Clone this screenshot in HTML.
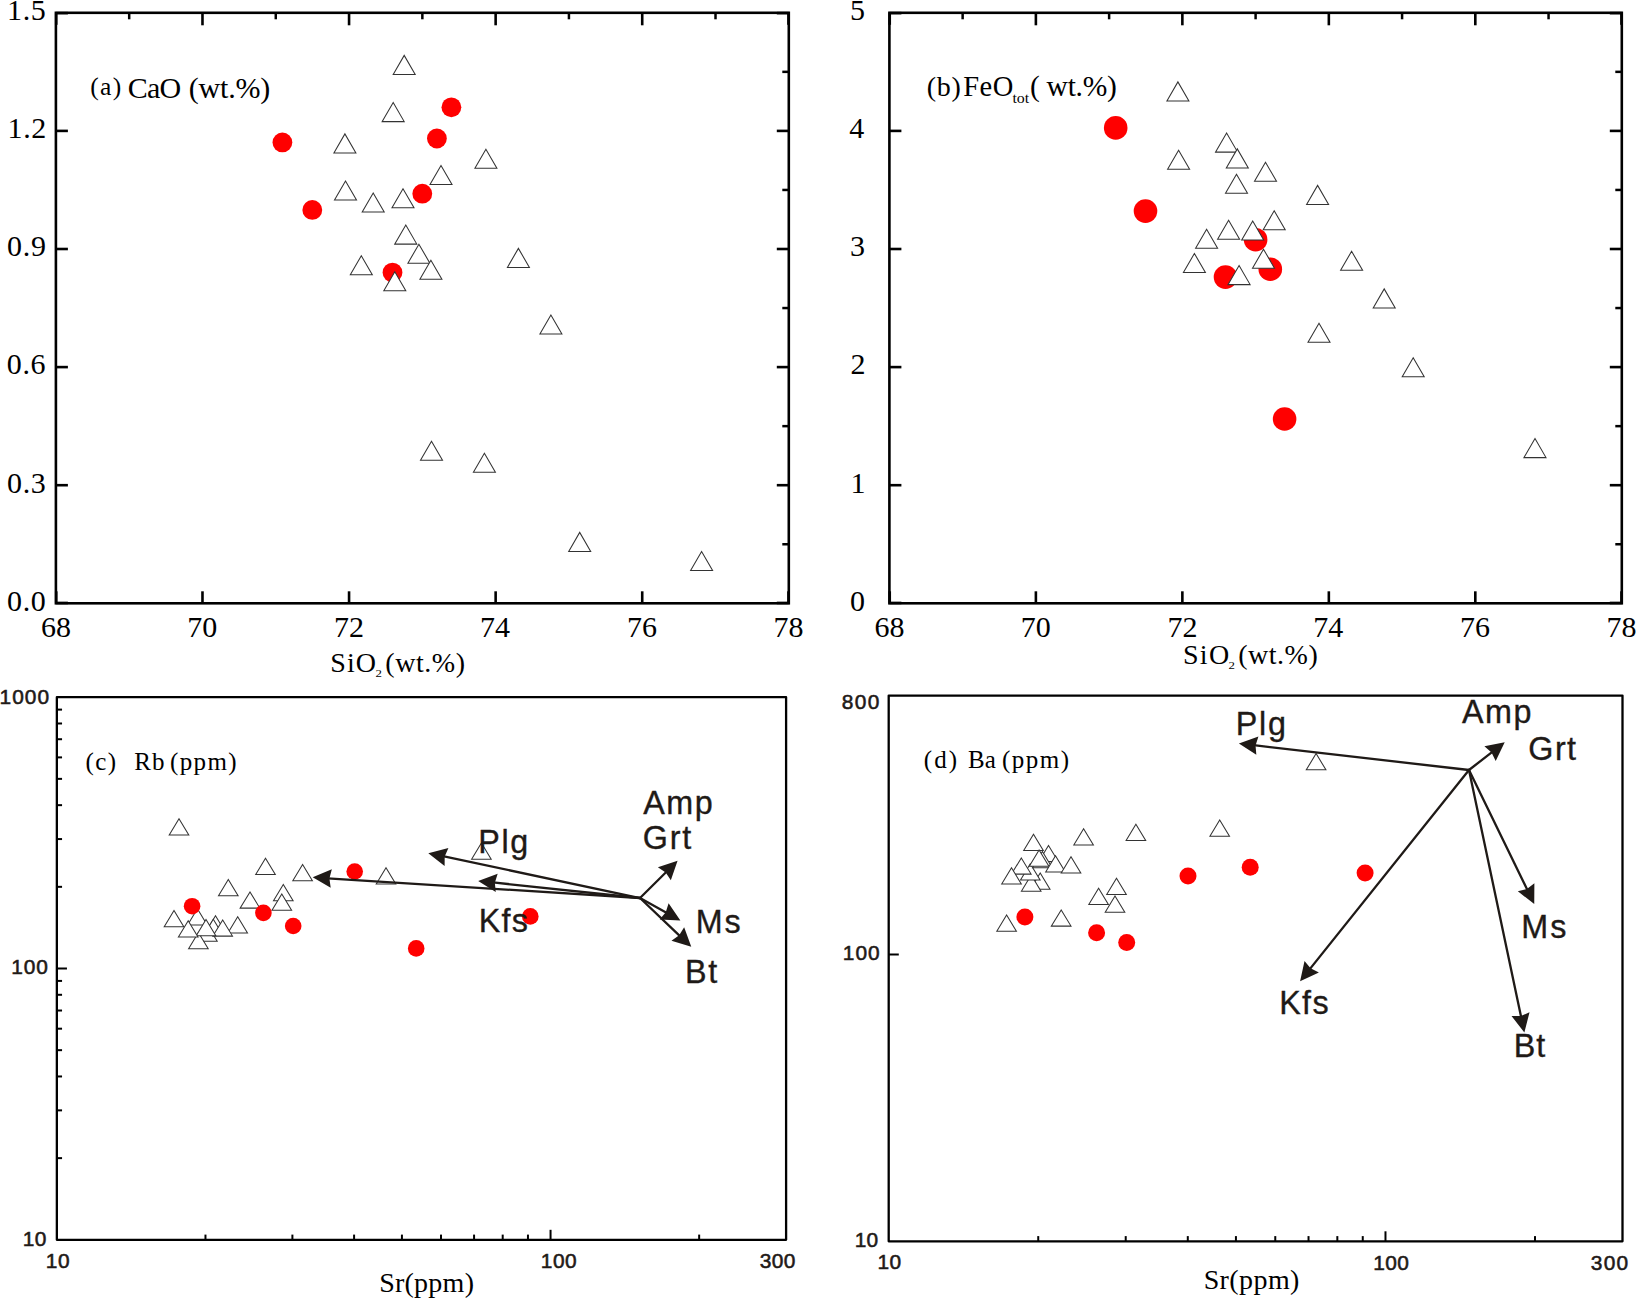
<!DOCTYPE html>
<html lang="en">
<head>
<meta charset="utf-8">
<title>Harker and Sr variation diagrams</title>
<style>
html,body{margin:0;padding:0;background:#fff;}
body{width:1636px;height:1299px;overflow:hidden;}
svg{display:block;}
.se{font-family:"Liberation Serif","Times New Roman",serif;fill:#000;}
.sa{font-family:"Liberation Sans",Arial,sans-serif;fill:#1f1a17;}
</style>
</head>
<body>
<svg width="1636" height="1299" viewBox="0 0 1636 1299">
<rect width="1636" height="1299" fill="#fff"/>
<g id="panel-a">
<rect x="55.9" y="12.8" width="732.9" height="590.5" fill="none" stroke="#000" stroke-width="2.6"/>
<text class="se" x="41.03" y="637.3" font-size="30" letter-spacing="0">68</text>
<line x1="129.19" y1="12.8" x2="129.19" y2="19.3" stroke="#000" stroke-width="2.5" stroke-linecap="butt"/>
<line x1="202.48" y1="12.8" x2="202.48" y2="25.3" stroke="#000" stroke-width="2.6" stroke-linecap="butt"/>
<line x1="202.48" y1="603.3" x2="202.48" y2="591.3" stroke="#000" stroke-width="2.6" stroke-linecap="butt"/>
<text class="se" x="187.26" y="637.3" font-size="30" letter-spacing="0">70</text>
<line x1="275.77" y1="12.8" x2="275.77" y2="19.3" stroke="#000" stroke-width="2.5" stroke-linecap="butt"/>
<line x1="349.06" y1="12.8" x2="349.06" y2="25.3" stroke="#000" stroke-width="2.6" stroke-linecap="butt"/>
<line x1="349.06" y1="603.3" x2="349.06" y2="591.3" stroke="#000" stroke-width="2.6" stroke-linecap="butt"/>
<text class="se" x="334.1" y="637.3" font-size="30" letter-spacing="0">72</text>
<line x1="422.35" y1="12.8" x2="422.35" y2="19.3" stroke="#000" stroke-width="2.5" stroke-linecap="butt"/>
<line x1="495.64" y1="12.8" x2="495.64" y2="25.3" stroke="#000" stroke-width="2.6" stroke-linecap="butt"/>
<line x1="495.64" y1="603.3" x2="495.64" y2="591.3" stroke="#000" stroke-width="2.6" stroke-linecap="butt"/>
<text class="se" x="480.09" y="637.3" font-size="30" letter-spacing="0">74</text>
<line x1="568.93" y1="12.8" x2="568.93" y2="19.3" stroke="#000" stroke-width="2.5" stroke-linecap="butt"/>
<line x1="642.22" y1="12.8" x2="642.22" y2="25.3" stroke="#000" stroke-width="2.6" stroke-linecap="butt"/>
<line x1="642.22" y1="603.3" x2="642.22" y2="591.3" stroke="#000" stroke-width="2.6" stroke-linecap="butt"/>
<text class="se" x="626.88" y="637.3" font-size="30" letter-spacing="0">76</text>
<line x1="715.51" y1="12.8" x2="715.51" y2="19.3" stroke="#000" stroke-width="2.5" stroke-linecap="butt"/>
<text class="se" x="773.58" y="637.3" font-size="30" letter-spacing="0">78</text>
<text class="se" x="6.94" y="610.6" font-size="30" letter-spacing="0.7">0.0</text>
<line x1="788.8" y1="544.25" x2="782.3" y2="544.25" stroke="#000" stroke-width="2.5" stroke-linecap="butt"/>
<line x1="55.9" y1="485.2" x2="67.9" y2="485.2" stroke="#000" stroke-width="2.6" stroke-linecap="butt"/>
<line x1="788.8" y1="485.2" x2="776.8" y2="485.2" stroke="#000" stroke-width="2.6" stroke-linecap="butt"/>
<text class="se" x="6.97" y="492.5" font-size="30" letter-spacing="0.7">0.3</text>
<line x1="788.8" y1="426.15" x2="782.3" y2="426.15" stroke="#000" stroke-width="2.5" stroke-linecap="butt"/>
<line x1="55.9" y1="367.1" x2="67.9" y2="367.1" stroke="#000" stroke-width="2.6" stroke-linecap="butt"/>
<line x1="788.8" y1="367.1" x2="776.8" y2="367.1" stroke="#000" stroke-width="2.6" stroke-linecap="butt"/>
<text class="se" x="6.69" y="374.4" font-size="30" letter-spacing="0.7">0.6</text>
<line x1="788.8" y1="308.05" x2="782.3" y2="308.05" stroke="#000" stroke-width="2.5" stroke-linecap="butt"/>
<line x1="55.9" y1="249" x2="67.9" y2="249" stroke="#000" stroke-width="2.6" stroke-linecap="butt"/>
<line x1="788.8" y1="249" x2="776.8" y2="249" stroke="#000" stroke-width="2.6" stroke-linecap="butt"/>
<text class="se" x="7.03" y="256.3" font-size="30" letter-spacing="0.7">0.9</text>
<line x1="788.8" y1="189.95" x2="782.3" y2="189.95" stroke="#000" stroke-width="2.5" stroke-linecap="butt"/>
<line x1="55.9" y1="130.9" x2="67.9" y2="130.9" stroke="#000" stroke-width="2.6" stroke-linecap="butt"/>
<line x1="788.8" y1="130.9" x2="776.8" y2="130.9" stroke="#000" stroke-width="2.6" stroke-linecap="butt"/>
<text class="se" x="7.46" y="138.2" font-size="30" letter-spacing="0.7">1.2</text>
<line x1="788.8" y1="71.85" x2="782.3" y2="71.85" stroke="#000" stroke-width="2.5" stroke-linecap="butt"/>
<text class="se" x="6.97" y="20.1" font-size="30" letter-spacing="0.7">1.5</text>
<line x1="55.9" y1="13.15" x2="67.9" y2="13.15" stroke="#000" stroke-width="2.6" stroke-linecap="butt"/>
<line x1="56.25" y1="12.8" x2="56.25" y2="24.8" stroke="#000" stroke-width="2.6" stroke-linecap="butt"/>
<line x1="788.8" y1="13.15" x2="776.8" y2="13.15" stroke="#000" stroke-width="2.6" stroke-linecap="butt"/>
<line x1="788.45" y1="12.8" x2="788.45" y2="24.8" stroke="#000" stroke-width="2.6" stroke-linecap="butt"/>
<line x1="55.9" y1="602.95" x2="67.9" y2="602.95" stroke="#000" stroke-width="2.6" stroke-linecap="butt"/>
<line x1="56.25" y1="603.3" x2="56.25" y2="591.3" stroke="#000" stroke-width="2.6" stroke-linecap="butt"/>
<line x1="788.8" y1="602.95" x2="776.8" y2="602.95" stroke="#000" stroke-width="2.6" stroke-linecap="butt"/>
<line x1="788.45" y1="603.3" x2="788.45" y2="591.3" stroke="#000" stroke-width="2.6" stroke-linecap="butt"/>
<text class="se" x="90.18" y="94.7" font-size="25.5" letter-spacing="1.37">(a)</text>
<text class="se" x="127.67" y="98.1" font-size="30" letter-spacing="-0.71">CaO</text>
<text class="se" x="188.78" y="98.1" font-size="30" letter-spacing="-0.21">(wt.%)</text>
<text class="se" x="330.33" y="671.5" font-size="28" letter-spacing="1.02">SiO</text>
<text class="se" x="375.6" y="676.5" font-size="11" textLength="6.4" lengthAdjust="spacingAndGlyphs">2</text>
<text class="se" x="385.27" y="671.5" font-size="28" letter-spacing="0.56">(wt.%)</text>
<path d="M393.2 74.4L404.2 55.4L415.2 74.4Z" fill="#fff" stroke="#333" stroke-width="1.05" stroke-linejoin="miter"/>
<path d="M382.2 121.6L393.2 102.6L404.2 121.6Z" fill="#fff" stroke="#333" stroke-width="1.05" stroke-linejoin="miter"/>
<path d="M333.9 152.9L344.9 133.9L355.9 152.9Z" fill="#fff" stroke="#333" stroke-width="1.05" stroke-linejoin="miter"/>
<path d="M474.9 168.3L485.9 149.3L496.9 168.3Z" fill="#fff" stroke="#333" stroke-width="1.05" stroke-linejoin="miter"/>
<path d="M430 184.5L441 165.5L452 184.5Z" fill="#fff" stroke="#333" stroke-width="1.05" stroke-linejoin="miter"/>
<path d="M334.5 200L345.5 181L356.5 200Z" fill="#fff" stroke="#333" stroke-width="1.05" stroke-linejoin="miter"/>
<path d="M362.2 212L373.2 193L384.2 212Z" fill="#fff" stroke="#333" stroke-width="1.05" stroke-linejoin="miter"/>
<path d="M392 207.7L403 188.7L414 207.7Z" fill="#fff" stroke="#333" stroke-width="1.05" stroke-linejoin="miter"/>
<path d="M394.8 244.1L405.8 225.1L416.8 244.1Z" fill="#fff" stroke="#333" stroke-width="1.05" stroke-linejoin="miter"/>
<path d="M407.9 263.2L418.9 244.2L429.9 263.2Z" fill="#fff" stroke="#333" stroke-width="1.05" stroke-linejoin="miter"/>
<path d="M350.3 274.8L361.3 255.8L372.3 274.8Z" fill="#fff" stroke="#333" stroke-width="1.05" stroke-linejoin="miter"/>
<path d="M419.9 279.3L430.9 260.3L441.9 279.3Z" fill="#fff" stroke="#333" stroke-width="1.05" stroke-linejoin="miter"/>
<path d="M507.4 267.4L518.4 248.4L529.4 267.4Z" fill="#fff" stroke="#333" stroke-width="1.05" stroke-linejoin="miter"/>
<path d="M539.9 334L550.9 315L561.9 334Z" fill="#fff" stroke="#333" stroke-width="1.05" stroke-linejoin="miter"/>
<path d="M420.5 460.3L431.5 441.3L442.5 460.3Z" fill="#fff" stroke="#333" stroke-width="1.05" stroke-linejoin="miter"/>
<path d="M473.4 472.3L484.4 453.3L495.4 472.3Z" fill="#fff" stroke="#333" stroke-width="1.05" stroke-linejoin="miter"/>
<path d="M568.7 551.4L579.7 532.4L590.7 551.4Z" fill="#fff" stroke="#333" stroke-width="1.05" stroke-linejoin="miter"/>
<path d="M690.6 570.5L701.6 551.5L712.6 570.5Z" fill="#fff" stroke="#333" stroke-width="1.05" stroke-linejoin="miter"/>
<circle cx="282.4" cy="142.4" r="9.9" fill="#ff0000"/>
<circle cx="312.3" cy="209.9" r="9.9" fill="#ff0000"/>
<circle cx="451.4" cy="107.3" r="9.9" fill="#ff0000"/>
<circle cx="436.9" cy="138.5" r="9.9" fill="#ff0000"/>
<circle cx="422.3" cy="193.7" r="9.9" fill="#ff0000"/>
<circle cx="392.5" cy="272.6" r="9.9" fill="#ff0000"/>
<path d="M383.8 290.8L394.8 271.8L405.8 290.8Z" fill="#fff" stroke="#333" stroke-width="1.05" stroke-linejoin="miter"/>
</g>
<g id="panel-b">
<rect x="889.4" y="12.8" width="732.4" height="590.5" fill="none" stroke="#000" stroke-width="2.6"/>
<text class="se" x="874.53" y="637.3" font-size="30" letter-spacing="0">68</text>
<line x1="962.64" y1="12.8" x2="962.64" y2="19.3" stroke="#000" stroke-width="2.5" stroke-linecap="butt"/>
<line x1="1035.88" y1="12.8" x2="1035.88" y2="25.3" stroke="#000" stroke-width="2.6" stroke-linecap="butt"/>
<line x1="1035.88" y1="603.3" x2="1035.88" y2="591.3" stroke="#000" stroke-width="2.6" stroke-linecap="butt"/>
<text class="se" x="1020.66" y="637.3" font-size="30" letter-spacing="0">70</text>
<line x1="1109.12" y1="12.8" x2="1109.12" y2="19.3" stroke="#000" stroke-width="2.5" stroke-linecap="butt"/>
<line x1="1182.36" y1="12.8" x2="1182.36" y2="25.3" stroke="#000" stroke-width="2.6" stroke-linecap="butt"/>
<line x1="1182.36" y1="603.3" x2="1182.36" y2="591.3" stroke="#000" stroke-width="2.6" stroke-linecap="butt"/>
<text class="se" x="1167.4" y="637.3" font-size="30" letter-spacing="0">72</text>
<line x1="1255.6" y1="12.8" x2="1255.6" y2="19.3" stroke="#000" stroke-width="2.5" stroke-linecap="butt"/>
<line x1="1328.84" y1="12.8" x2="1328.84" y2="25.3" stroke="#000" stroke-width="2.6" stroke-linecap="butt"/>
<line x1="1328.84" y1="603.3" x2="1328.84" y2="591.3" stroke="#000" stroke-width="2.6" stroke-linecap="butt"/>
<text class="se" x="1313.29" y="637.3" font-size="30" letter-spacing="0">74</text>
<line x1="1402.08" y1="12.8" x2="1402.08" y2="19.3" stroke="#000" stroke-width="2.5" stroke-linecap="butt"/>
<line x1="1475.32" y1="12.8" x2="1475.32" y2="25.3" stroke="#000" stroke-width="2.6" stroke-linecap="butt"/>
<line x1="1475.32" y1="603.3" x2="1475.32" y2="591.3" stroke="#000" stroke-width="2.6" stroke-linecap="butt"/>
<text class="se" x="1459.98" y="637.3" font-size="30" letter-spacing="0">76</text>
<line x1="1548.56" y1="12.8" x2="1548.56" y2="19.3" stroke="#000" stroke-width="2.5" stroke-linecap="butt"/>
<text class="se" x="1606.58" y="637.3" font-size="30" letter-spacing="0">78</text>
<text class="se" x="849.94" y="610.6" font-size="30" letter-spacing="0">0</text>
<line x1="1621.8" y1="544.25" x2="1615.3" y2="544.25" stroke="#000" stroke-width="2.5" stroke-linecap="butt"/>
<line x1="889.4" y1="485.2" x2="901.4" y2="485.2" stroke="#000" stroke-width="2.6" stroke-linecap="butt"/>
<line x1="1621.8" y1="485.2" x2="1609.8" y2="485.2" stroke="#000" stroke-width="2.6" stroke-linecap="butt"/>
<text class="se" x="850.6" y="492.5" font-size="30" letter-spacing="0">1</text>
<line x1="1621.8" y1="426.15" x2="1615.3" y2="426.15" stroke="#000" stroke-width="2.5" stroke-linecap="butt"/>
<line x1="889.4" y1="367.1" x2="901.4" y2="367.1" stroke="#000" stroke-width="2.6" stroke-linecap="butt"/>
<line x1="1621.8" y1="367.1" x2="1609.8" y2="367.1" stroke="#000" stroke-width="2.6" stroke-linecap="butt"/>
<text class="se" x="850.46" y="374.4" font-size="30" letter-spacing="0">2</text>
<line x1="1621.8" y1="308.05" x2="1615.3" y2="308.05" stroke="#000" stroke-width="2.5" stroke-linecap="butt"/>
<line x1="889.4" y1="249" x2="901.4" y2="249" stroke="#000" stroke-width="2.6" stroke-linecap="butt"/>
<line x1="1621.8" y1="249" x2="1609.8" y2="249" stroke="#000" stroke-width="2.6" stroke-linecap="butt"/>
<text class="se" x="849.97" y="256.3" font-size="30" letter-spacing="0">3</text>
<line x1="1621.8" y1="189.95" x2="1615.3" y2="189.95" stroke="#000" stroke-width="2.5" stroke-linecap="butt"/>
<line x1="889.4" y1="130.9" x2="901.4" y2="130.9" stroke="#000" stroke-width="2.6" stroke-linecap="butt"/>
<line x1="1621.8" y1="130.9" x2="1609.8" y2="130.9" stroke="#000" stroke-width="2.6" stroke-linecap="butt"/>
<text class="se" x="849.27" y="138.2" font-size="30" letter-spacing="0">4</text>
<line x1="1621.8" y1="71.85" x2="1615.3" y2="71.85" stroke="#000" stroke-width="2.5" stroke-linecap="butt"/>
<text class="se" x="849.97" y="20.1" font-size="30" letter-spacing="0">5</text>
<line x1="889.4" y1="13.15" x2="901.4" y2="13.15" stroke="#000" stroke-width="2.6" stroke-linecap="butt"/>
<line x1="889.75" y1="12.8" x2="889.75" y2="24.8" stroke="#000" stroke-width="2.6" stroke-linecap="butt"/>
<line x1="1621.8" y1="13.15" x2="1609.8" y2="13.15" stroke="#000" stroke-width="2.6" stroke-linecap="butt"/>
<line x1="1621.45" y1="12.8" x2="1621.45" y2="24.8" stroke="#000" stroke-width="2.6" stroke-linecap="butt"/>
<line x1="889.4" y1="602.95" x2="901.4" y2="602.95" stroke="#000" stroke-width="2.6" stroke-linecap="butt"/>
<line x1="889.75" y1="603.3" x2="889.75" y2="591.3" stroke="#000" stroke-width="2.6" stroke-linecap="butt"/>
<line x1="1621.8" y1="602.95" x2="1609.8" y2="602.95" stroke="#000" stroke-width="2.6" stroke-linecap="butt"/>
<line x1="1621.45" y1="603.3" x2="1621.45" y2="591.3" stroke="#000" stroke-width="2.6" stroke-linecap="butt"/>
<text class="se" x="926.67" y="95.7" font-size="28" letter-spacing="0.81">(b)</text>
<text class="se" x="963.18" y="95.7" font-size="28.5" letter-spacing="0.6">FeO</text>
<text class="se" x="1012.4" y="102.8" font-size="14" textLength="16.8" lengthAdjust="spacingAndGlyphs">tot</text>
<text class="se" x="1029.9" y="95.7" font-size="29.5" letter-spacing="-0.25">( wt.%)</text>
<text class="se" x="1183.03" y="664" font-size="28" letter-spacing="1.27">SiO</text>
<text class="se" x="1228.6" y="669" font-size="11" textLength="6.4" lengthAdjust="spacingAndGlyphs">2</text>
<text class="se" x="1238.17" y="664" font-size="28" letter-spacing="0.52">(wt.%)</text>
<circle cx="1115.7" cy="127.9" r="11.8" fill="#ff0000"/>
<circle cx="1145.5" cy="211.1" r="11.8" fill="#ff0000"/>
<circle cx="1255.6" cy="239.7" r="11.8" fill="#ff0000"/>
<circle cx="1270.3" cy="269.2" r="11.8" fill="#ff0000"/>
<circle cx="1225.5" cy="277.1" r="11.8" fill="#ff0000"/>
<circle cx="1284.6" cy="419" r="11.8" fill="#ff0000"/>
<path d="M1166.9 100.9L1177.9 81.9L1188.9 100.9Z" fill="#fff" stroke="#333" stroke-width="1.05" stroke-linejoin="miter"/>
<path d="M1215.6 152.1L1226.6 133.1L1237.6 152.1Z" fill="#fff" stroke="#333" stroke-width="1.05" stroke-linejoin="miter"/>
<path d="M1167.6 169.3L1178.6 150.3L1189.6 169.3Z" fill="#fff" stroke="#333" stroke-width="1.05" stroke-linejoin="miter"/>
<path d="M1226.3 167.9L1237.3 148.9L1248.3 167.9Z" fill="#fff" stroke="#333" stroke-width="1.05" stroke-linejoin="miter"/>
<path d="M1254.5 181.3L1265.5 162.3L1276.5 181.3Z" fill="#fff" stroke="#333" stroke-width="1.05" stroke-linejoin="miter"/>
<path d="M1225.5 193.3L1236.5 174.3L1247.5 193.3Z" fill="#fff" stroke="#333" stroke-width="1.05" stroke-linejoin="miter"/>
<path d="M1306.6 204.4L1317.6 185.4L1328.6 204.4Z" fill="#fff" stroke="#333" stroke-width="1.05" stroke-linejoin="miter"/>
<path d="M1263.2 229.8L1274.2 210.8L1285.2 229.8Z" fill="#fff" stroke="#333" stroke-width="1.05" stroke-linejoin="miter"/>
<path d="M1217.6 239.2L1228.6 220.2L1239.6 239.2Z" fill="#fff" stroke="#333" stroke-width="1.05" stroke-linejoin="miter"/>
<path d="M1241.7 240L1252.7 221L1263.7 240Z" fill="#fff" stroke="#333" stroke-width="1.05" stroke-linejoin="miter"/>
<path d="M1195.6 248.3L1206.6 229.3L1217.6 248.3Z" fill="#fff" stroke="#333" stroke-width="1.05" stroke-linejoin="miter"/>
<path d="M1183.4 272.5L1194.4 253.5L1205.4 272.5Z" fill="#fff" stroke="#333" stroke-width="1.05" stroke-linejoin="miter"/>
<path d="M1252.5 268.2L1263.5 249.2L1274.5 268.2Z" fill="#fff" stroke="#333" stroke-width="1.05" stroke-linejoin="miter"/>
<path d="M1228.1 284.6L1239.1 265.6L1250.1 284.6Z" fill="#fff" stroke="#333" stroke-width="1.05" stroke-linejoin="miter"/>
<path d="M1340.6 270.3L1351.6 251.3L1362.6 270.3Z" fill="#fff" stroke="#333" stroke-width="1.05" stroke-linejoin="miter"/>
<path d="M1373.2 307.9L1384.2 288.9L1395.2 307.9Z" fill="#fff" stroke="#333" stroke-width="1.05" stroke-linejoin="miter"/>
<path d="M1308 342.3L1319 323.3L1330 342.3Z" fill="#fff" stroke="#333" stroke-width="1.05" stroke-linejoin="miter"/>
<path d="M1402.2 376.7L1413.2 357.7L1424.2 376.7Z" fill="#fff" stroke="#333" stroke-width="1.05" stroke-linejoin="miter"/>
<path d="M1524 457.6L1535 438.6L1546 457.6Z" fill="#fff" stroke="#333" stroke-width="1.05" stroke-linejoin="miter"/>
</g>
<g id="panel-c">
<rect x="56.85" y="697.2" width="729.25" height="542.6" fill="none" stroke="#000" stroke-width="2.3" stroke-linejoin="round"/>
<line x1="205.47" y1="1239.8" x2="205.47" y2="1234.6" stroke="#000" stroke-width="2.0" stroke-linecap="butt"/>
<line x1="292.4" y1="1239.8" x2="292.4" y2="1234.6" stroke="#000" stroke-width="2.0" stroke-linecap="butt"/>
<line x1="354.09" y1="1239.8" x2="354.09" y2="1234.6" stroke="#000" stroke-width="2.0" stroke-linecap="butt"/>
<line x1="401.93" y1="1239.8" x2="401.93" y2="1234.6" stroke="#000" stroke-width="2.0" stroke-linecap="butt"/>
<line x1="441.02" y1="1239.8" x2="441.02" y2="1234.6" stroke="#000" stroke-width="2.0" stroke-linecap="butt"/>
<line x1="474.07" y1="1239.8" x2="474.07" y2="1234.6" stroke="#000" stroke-width="2.0" stroke-linecap="butt"/>
<line x1="502.7" y1="1239.8" x2="502.7" y2="1234.6" stroke="#000" stroke-width="2.0" stroke-linecap="butt"/>
<line x1="527.96" y1="1239.8" x2="527.96" y2="1234.6" stroke="#000" stroke-width="2.0" stroke-linecap="butt"/>
<line x1="550.55" y1="1239.8" x2="550.55" y2="1229.8" stroke="#000" stroke-width="2.0" stroke-linecap="butt"/>
<line x1="699.16" y1="1239.8" x2="699.16" y2="1234.6" stroke="#000" stroke-width="2.0" stroke-linecap="butt"/>
<line x1="56.85" y1="1158.13" x2="62.05" y2="1158.13" stroke="#000" stroke-width="2.0" stroke-linecap="butt"/>
<line x1="56.85" y1="1110.36" x2="62.05" y2="1110.36" stroke="#000" stroke-width="2.0" stroke-linecap="butt"/>
<line x1="56.85" y1="1076.46" x2="62.05" y2="1076.46" stroke="#000" stroke-width="2.0" stroke-linecap="butt"/>
<line x1="56.85" y1="1050.17" x2="62.05" y2="1050.17" stroke="#000" stroke-width="2.0" stroke-linecap="butt"/>
<line x1="56.85" y1="1028.69" x2="62.05" y2="1028.69" stroke="#000" stroke-width="2.0" stroke-linecap="butt"/>
<line x1="56.85" y1="1010.52" x2="62.05" y2="1010.52" stroke="#000" stroke-width="2.0" stroke-linecap="butt"/>
<line x1="56.85" y1="994.79" x2="62.05" y2="994.79" stroke="#000" stroke-width="2.0" stroke-linecap="butt"/>
<line x1="56.85" y1="980.91" x2="62.05" y2="980.91" stroke="#000" stroke-width="2.0" stroke-linecap="butt"/>
<line x1="56.85" y1="886.83" x2="62.05" y2="886.83" stroke="#000" stroke-width="2.0" stroke-linecap="butt"/>
<line x1="56.85" y1="839.06" x2="62.05" y2="839.06" stroke="#000" stroke-width="2.0" stroke-linecap="butt"/>
<line x1="56.85" y1="805.16" x2="62.05" y2="805.16" stroke="#000" stroke-width="2.0" stroke-linecap="butt"/>
<line x1="56.85" y1="778.87" x2="62.05" y2="778.87" stroke="#000" stroke-width="2.0" stroke-linecap="butt"/>
<line x1="56.85" y1="757.39" x2="62.05" y2="757.39" stroke="#000" stroke-width="2.0" stroke-linecap="butt"/>
<line x1="56.85" y1="739.22" x2="62.05" y2="739.22" stroke="#000" stroke-width="2.0" stroke-linecap="butt"/>
<line x1="56.85" y1="723.49" x2="62.05" y2="723.49" stroke="#000" stroke-width="2.0" stroke-linecap="butt"/>
<line x1="56.85" y1="709.61" x2="62.05" y2="709.61" stroke="#000" stroke-width="2.0" stroke-linecap="butt"/>
<line x1="56.85" y1="968.5" x2="66.95" y2="968.5" stroke="#000" stroke-width="2.0" stroke-linecap="butt"/>
<path d="M169.2 834.9L179 818.7L188.8 834.9Z" fill="#fff" stroke="#333" stroke-width="1.05" stroke-linejoin="miter"/>
<path d="M255.7 874.4L265.5 858.2L275.3 874.4Z" fill="#fff" stroke="#333" stroke-width="1.05" stroke-linejoin="miter"/>
<path d="M292.8 880.7L302.6 864.5L312.4 880.7Z" fill="#fff" stroke="#333" stroke-width="1.05" stroke-linejoin="miter"/>
<path d="M376.2 884L386 867.8L395.8 884Z" fill="#fff" stroke="#333" stroke-width="1.05" stroke-linejoin="miter"/>
<path d="M471.6 859.3L481.4 843.1L491.2 859.3Z" fill="#fff" stroke="#333" stroke-width="1.05" stroke-linejoin="miter"/>
<path d="M218.5 895.8L228.3 879.6L238.1 895.8Z" fill="#fff" stroke="#333" stroke-width="1.05" stroke-linejoin="miter"/>
<path d="M273.5 900.7L283.3 884.5L293.1 900.7Z" fill="#fff" stroke="#333" stroke-width="1.05" stroke-linejoin="miter"/>
<path d="M240.2 908.1L250 891.9L259.8 908.1Z" fill="#fff" stroke="#333" stroke-width="1.05" stroke-linejoin="miter"/>
<path d="M272 910.2L281.8 894L291.6 910.2Z" fill="#fff" stroke="#333" stroke-width="1.05" stroke-linejoin="miter"/>
<path d="M187.6 925L197.4 908.8L207.2 925Z" fill="#fff" stroke="#333" stroke-width="1.05" stroke-linejoin="miter"/>
<path d="M164.2 926.8L174 910.6L183.8 926.8Z" fill="#fff" stroke="#333" stroke-width="1.05" stroke-linejoin="miter"/>
<path d="M205.7 932L215.5 915.8L225.3 932Z" fill="#fff" stroke="#333" stroke-width="1.05" stroke-linejoin="miter"/>
<path d="M203.5 935.5L213.3 919.3L223.1 935.5Z" fill="#fff" stroke="#333" stroke-width="1.05" stroke-linejoin="miter"/>
<path d="M197.6 941.3L207.4 925.1L217.2 941.3Z" fill="#fff" stroke="#333" stroke-width="1.05" stroke-linejoin="miter"/>
<path d="M188.6 948.8L198.4 932.6L208.2 948.8Z" fill="#fff" stroke="#333" stroke-width="1.05" stroke-linejoin="miter"/>
<path d="M227.9 933L237.7 916.8L247.5 933Z" fill="#fff" stroke="#333" stroke-width="1.05" stroke-linejoin="miter"/>
<path d="M212.9 936.1L222.7 919.9L232.5 936.1Z" fill="#fff" stroke="#333" stroke-width="1.05" stroke-linejoin="miter"/>
<path d="M196.2 935.8L206 919.6L215.8 935.8Z" fill="#fff" stroke="#333" stroke-width="1.05" stroke-linejoin="miter"/>
<path d="M178.4 937L188.2 920.8L198 937Z" fill="#fff" stroke="#333" stroke-width="1.05" stroke-linejoin="miter"/>
<circle cx="192.1" cy="906.2" r="8.3" fill="#ff0000"/>
<circle cx="263.4" cy="912.9" r="8.3" fill="#ff0000"/>
<circle cx="293.2" cy="926" r="8.3" fill="#ff0000"/>
<circle cx="354.7" cy="871.5" r="8.3" fill="#ff0000"/>
<circle cx="416.2" cy="948.4" r="8.3" fill="#ff0000"/>
<circle cx="530.3" cy="916.4" r="8.3" fill="#ff0000"/>
<line x1="640" y1="898" x2="327.55" y2="878.29" stroke="#1f1a17" stroke-width="2.3" stroke-linecap="round"/>
<path d="M312.7 877.35L331.84 869.34L329.41 878.4L330.69 887.7Z" fill="#1f1a17"/>
<line x1="640" y1="898" x2="442.87" y2="856.22" stroke="#1f1a17" stroke-width="2.3" stroke-linecap="round"/>
<path d="M428.32 853.13L448.42 847.99L444.69 856.61L444.61 865.99Z" fill="#1f1a17"/>
<line x1="640" y1="898" x2="493" y2="882.48" stroke="#1f1a17" stroke-width="2.3" stroke-linecap="round"/>
<path d="M478.2 880.92L497.67 873.72L494.85 882.67L495.74 892.02Z" fill="#1f1a17"/>
<line x1="640" y1="898" x2="667" y2="871.22" stroke="#1f1a17" stroke-width="2.3" stroke-linecap="round"/>
<path d="M677.57 860.74L670.84 880.37L665.68 872.53L657.88 867.3Z" fill="#1f1a17"/>
<line x1="640" y1="898" x2="667.38" y2="913.18" stroke="#1f1a17" stroke-width="2.3" stroke-linecap="round"/>
<path d="M680.4 920.39L659.67 919.42L665.76 912.27L668.59 903.33Z" fill="#1f1a17"/>
<line x1="640" y1="898" x2="680.51" y2="936.59" stroke="#1f1a17" stroke-width="2.3" stroke-linecap="round"/>
<path d="M691.28 946.85L671.47 940.68L679.16 935.31L684.16 927.36Z" fill="#1f1a17"/>
<text class="sa" x="-0.42" y="703.6" font-size="20.9" letter-spacing="1.02" stroke="#1f1a17" stroke-width="0.55">1000</text>
<text class="sa" x="11.18" y="974.2" font-size="20.9" letter-spacing="0.94" stroke="#1f1a17" stroke-width="0.55">100</text>
<text class="sa" x="22.78" y="1245.6" font-size="20.9" letter-spacing="0.31" stroke="#1f1a17" stroke-width="0.55">10</text>
<text class="sa" x="45.78" y="1267.9" font-size="20.9" letter-spacing="0.61" stroke="#1f1a17" stroke-width="0.55">10</text>
<text class="sa" x="540.85" y="1267.8" font-size="20.9" letter-spacing="0.43" stroke="#1f1a17" stroke-width="0.55">100</text>
<text class="sa" x="759.65" y="1267.8" font-size="20.9" letter-spacing="0.42" stroke="#1f1a17" stroke-width="0.55">300</text>
<text class="se" x="85.4" y="770.3" font-size="25" letter-spacing="1.53">(c)</text>
<text class="se" x="134.18" y="770.3" font-size="25" letter-spacing="1.1">Rb</text>
<text class="se" x="170.1" y="770.3" font-size="25" letter-spacing="1.35">(ppm)</text>
<text class="se" x="379.13" y="1292.4" font-size="28" letter-spacing="0.25">Sr(ppm)</text>
<text class="sa" x="643.21" y="813.9" font-size="32.3" letter-spacing="1.53" stroke="#1f1a17" stroke-width="0.35">Amp</text>
<text class="sa" x="642.85" y="849" font-size="32.3" letter-spacing="1.73" stroke="#1f1a17" stroke-width="0.35">Grt</text>
<text class="sa" x="478.33" y="853.3" font-size="32.3" letter-spacing="1.65" stroke="#1f1a17" stroke-width="0.35">Plg</text>
<text class="sa" x="478.73" y="932.3" font-size="32.3" letter-spacing="1.3" stroke="#1f1a17" stroke-width="0.35">Kfs</text>
<text class="sa" x="695.73" y="933.3" font-size="32.3" letter-spacing="1.91" stroke="#1f1a17" stroke-width="0.35">Ms</text>
<text class="sa" x="684.93" y="982.9" font-size="32.3" letter-spacing="1.72" stroke="#1f1a17" stroke-width="0.35">Bt</text>
</g>
<g id="panel-d">
<rect x="888.7" y="695.6" width="733.8" height="545.7" fill="none" stroke="#000" stroke-width="2.3" stroke-linejoin="round"/>
<line x1="1038.24" y1="1241.3" x2="1038.24" y2="1236.1" stroke="#000" stroke-width="2.0" stroke-linecap="butt"/>
<line x1="1125.72" y1="1241.3" x2="1125.72" y2="1236.1" stroke="#000" stroke-width="2.0" stroke-linecap="butt"/>
<line x1="1187.79" y1="1241.3" x2="1187.79" y2="1236.1" stroke="#000" stroke-width="2.0" stroke-linecap="butt"/>
<line x1="1235.93" y1="1241.3" x2="1235.93" y2="1236.1" stroke="#000" stroke-width="2.0" stroke-linecap="butt"/>
<line x1="1275.27" y1="1241.3" x2="1275.27" y2="1236.1" stroke="#000" stroke-width="2.0" stroke-linecap="butt"/>
<line x1="1308.53" y1="1241.3" x2="1308.53" y2="1236.1" stroke="#000" stroke-width="2.0" stroke-linecap="butt"/>
<line x1="1337.33" y1="1241.3" x2="1337.33" y2="1236.1" stroke="#000" stroke-width="2.0" stroke-linecap="butt"/>
<line x1="1362.75" y1="1241.3" x2="1362.75" y2="1236.1" stroke="#000" stroke-width="2.0" stroke-linecap="butt"/>
<line x1="1385.48" y1="1241.3" x2="1385.48" y2="1231.3" stroke="#000" stroke-width="2.0" stroke-linecap="butt"/>
<line x1="1535.02" y1="1241.3" x2="1535.02" y2="1236.1" stroke="#000" stroke-width="2.0" stroke-linecap="butt"/>
<line x1="888.7" y1="954.5" x2="898.8" y2="954.5" stroke="#000" stroke-width="2.0" stroke-linecap="butt"/>
<path d="M1306.3 769.8L1316.1 753.6L1325.9 769.8Z" fill="#fff" stroke="#333" stroke-width="1.05" stroke-linejoin="miter"/>
<path d="M1209.9 836.2L1219.7 820L1229.5 836.2Z" fill="#fff" stroke="#333" stroke-width="1.05" stroke-linejoin="miter"/>
<path d="M1126.1 840.5L1135.9 824.3L1145.7 840.5Z" fill="#fff" stroke="#333" stroke-width="1.05" stroke-linejoin="miter"/>
<path d="M1073.8 844.9L1083.6 828.7L1093.4 844.9Z" fill="#fff" stroke="#333" stroke-width="1.05" stroke-linejoin="miter"/>
<path d="M1030.4 889.3L1040.2 873.1L1050 889.3Z" fill="#fff" stroke="#333" stroke-width="1.05" stroke-linejoin="miter"/>
<path d="M1021.4 891.2L1031.2 875L1041 891.2Z" fill="#fff" stroke="#333" stroke-width="1.05" stroke-linejoin="miter"/>
<path d="M1020.5 879.9L1030.3 863.7L1040.1 879.9Z" fill="#fff" stroke="#333" stroke-width="1.05" stroke-linejoin="miter"/>
<path d="M1011.5 874.1L1021.3 857.9L1031.1 874.1Z" fill="#fff" stroke="#333" stroke-width="1.05" stroke-linejoin="miter"/>
<path d="M1001.7 884L1011.5 867.8L1021.3 884Z" fill="#fff" stroke="#333" stroke-width="1.05" stroke-linejoin="miter"/>
<path d="M1038.7 861.6L1048.5 845.4L1058.3 861.6Z" fill="#fff" stroke="#333" stroke-width="1.05" stroke-linejoin="miter"/>
<path d="M1032.6 867.7L1042.4 851.5L1052.2 867.7Z" fill="#fff" stroke="#333" stroke-width="1.05" stroke-linejoin="miter"/>
<path d="M1023.7 850.4L1033.5 834.2L1043.3 850.4Z" fill="#fff" stroke="#333" stroke-width="1.05" stroke-linejoin="miter"/>
<path d="M1029.3 866.3L1039.1 850.1L1048.9 866.3Z" fill="#fff" stroke="#333" stroke-width="1.05" stroke-linejoin="miter"/>
<path d="M1045.7 872L1055.5 855.8L1065.3 872Z" fill="#fff" stroke="#333" stroke-width="1.05" stroke-linejoin="miter"/>
<path d="M1061.2 873L1071 856.8L1080.8 873Z" fill="#fff" stroke="#333" stroke-width="1.05" stroke-linejoin="miter"/>
<path d="M1106.7 894.5L1116.5 878.3L1126.3 894.5Z" fill="#fff" stroke="#333" stroke-width="1.05" stroke-linejoin="miter"/>
<path d="M1088.8 904.5L1098.6 888.3L1108.4 904.5Z" fill="#fff" stroke="#333" stroke-width="1.05" stroke-linejoin="miter"/>
<path d="M1105.2 912.2L1115 896L1124.8 912.2Z" fill="#fff" stroke="#333" stroke-width="1.05" stroke-linejoin="miter"/>
<path d="M1051.4 926.1L1061.2 909.9L1071 926.1Z" fill="#fff" stroke="#333" stroke-width="1.05" stroke-linejoin="miter"/>
<path d="M996.8 931.3L1006.6 915.1L1016.4 931.3Z" fill="#fff" stroke="#333" stroke-width="1.05" stroke-linejoin="miter"/>
<circle cx="1024.9" cy="916.9" r="8.5" fill="#ff0000"/>
<circle cx="1096.6" cy="932.7" r="8.5" fill="#ff0000"/>
<circle cx="1126.7" cy="942.4" r="8.5" fill="#ff0000"/>
<circle cx="1188" cy="876.1" r="8.5" fill="#ff0000"/>
<circle cx="1250.2" cy="867.2" r="8.5" fill="#ff0000"/>
<circle cx="1365.1" cy="873" r="8.5" fill="#ff0000"/>
<line x1="1469" y1="770" x2="1253.69" y2="745.21" stroke="#1f1a17" stroke-width="2.3" stroke-linecap="round"/>
<path d="M1238.91 743.51L1258.44 736.5L1255.54 745.42L1256.33 754.78Z" fill="#1f1a17"/>
<line x1="1469" y1="770" x2="1492.99" y2="751.34" stroke="#1f1a17" stroke-width="2.3" stroke-linecap="round"/>
<path d="M1504.73 742.21L1495.7 760.89L1491.52 752.49L1484.4 746.37Z" fill="#1f1a17"/>
<line x1="1469" y1="770" x2="1527.74" y2="890.64" stroke="#1f1a17" stroke-width="2.3" stroke-linecap="round"/>
<path d="M1534.25 904.02L1517.84 891.32L1526.92 888.97L1534.38 883.27Z" fill="#1f1a17"/>
<line x1="1469" y1="770" x2="1521.29" y2="1017.82" stroke="#1f1a17" stroke-width="2.3" stroke-linecap="round"/>
<path d="M1524.37 1032.38L1511.52 1016.08L1520.91 1016L1529.53 1012.28Z" fill="#1f1a17"/>
<line x1="1469" y1="770" x2="1309.39" y2="969.6" stroke="#1f1a17" stroke-width="2.3" stroke-linecap="round"/>
<path d="M1300.1 981.22L1304.53 960.95L1310.55 968.15L1318.9 972.44Z" fill="#1f1a17"/>
<text class="sa" x="841.87" y="709.1" font-size="20.9" letter-spacing="1.35" stroke="#1f1a17" stroke-width="0.55">800</text>
<text class="sa" x="842.78" y="960.1" font-size="20.9" letter-spacing="1.04" stroke="#1f1a17" stroke-width="0.55">100</text>
<text class="sa" x="854.74" y="1247.2" font-size="20.9" letter-spacing="0.15" stroke="#1f1a17" stroke-width="0.55">10</text>
<text class="sa" x="877.61" y="1269" font-size="20.9" letter-spacing="0.15" stroke="#1f1a17" stroke-width="0.55">10</text>
<text class="sa" x="1373.15" y="1269.7" font-size="20.9" letter-spacing="0.42" stroke="#1f1a17" stroke-width="0.55">100</text>
<text class="sa" x="1590.78" y="1270" font-size="20.9" letter-spacing="1.3" stroke="#1f1a17" stroke-width="0.55">300</text>
<text class="se" x="923.7" y="768.2" font-size="25" letter-spacing="2.17">(d)</text>
<text class="se" x="967.88" y="768.2" font-size="25" letter-spacing="0.09">Ba</text>
<text class="se" x="1001.9" y="768.2" font-size="25" letter-spacing="1.55">(ppm)</text>
<text class="se" x="1203.63" y="1288.5" font-size="28" letter-spacing="0.41">Sr(ppm)</text>
<text class="sa" x="1235.73" y="734.6" font-size="32.3" letter-spacing="1.75" stroke="#1f1a17" stroke-width="0.35">Plg</text>
<text class="sa" x="1462.01" y="722.6" font-size="32.3" letter-spacing="1.48" stroke="#1f1a17" stroke-width="0.35">Amp</text>
<text class="sa" x="1528.35" y="760" font-size="32.3" letter-spacing="1.43" stroke="#1f1a17" stroke-width="0.35">Grt</text>
<text class="sa" x="1521.23" y="937.6" font-size="32.3" letter-spacing="2.01" stroke="#1f1a17" stroke-width="0.35">Ms</text>
<text class="sa" x="1279.13" y="1013.6" font-size="32.3" letter-spacing="1.45" stroke="#1f1a17" stroke-width="0.35">Kfs</text>
<text class="sa" x="1513.73" y="1056.8" font-size="32.3" letter-spacing="0.92" stroke="#1f1a17" stroke-width="0.35">Bt</text>
</g>
</svg>
</body>
</html>
